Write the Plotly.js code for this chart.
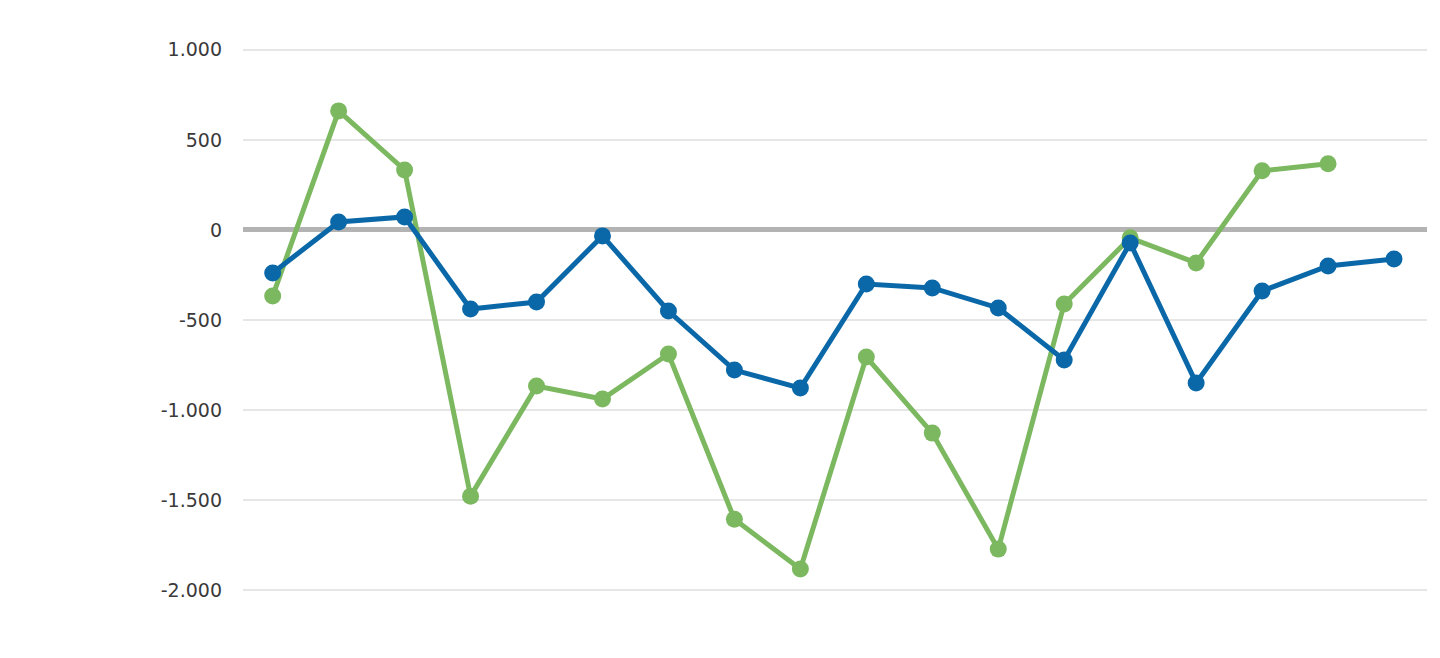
<!DOCTYPE html>
<html>
<head>
<meta charset="utf-8">
<script src="https://cdn.plot.ly/plotly-3.0.1.min.js"></script>
<style>html,body{margin:0;padding:0;background:#fff;}#chart{width:1440px;height:658px;}</style>
</head>
<body>
<div id="chart"></div>
<script>
const categories = [1,2,3,4,5,6,7,8,9,10,11,12,13,14,15,16,17,18];
const seriesBlue = [-239, 44, 72, -439, -400, -33, -450, -778, -878, -300, -322, -433, -722, -72, -850, -339, -200, -161];
const seriesGreen = [-367, 661, 333, -1478, -867, -939, -689, -1606, -1883, -706, -1128, -1772, -411, -44, -183, 328, 367, null];
const tickValues = [1000, 500, 0, -500, -1000, -1500, -2000];
const tickLabels = ["1.000", "500", "0", "-500", "-1.000", "-1.500", "-2.000"];

const traces = [
  {x: categories, y: seriesGreen, type: 'scatter', mode: 'lines+markers',
   line: {color: '#7cb860', width: 5}, marker: {color: '#7cb860', size: 17}, cliponaxis: false, connectgaps: false},
  {x: categories, y: seriesBlue, type: 'scatter', mode: 'lines+markers',
   line: {color: '#0b68a8', width: 5}, marker: {color: '#0b68a8', size: 17}, cliponaxis: false}
];
const layout = {
  width: 1440, height: 658,
  margin: {l: 243, r: 13, t: 30, b: 48},
  paper_bgcolor: '#fff', plot_bgcolor: '#fff',
  showlegend: false,
  font: {family: 'DejaVu Sans, Verdana, sans-serif', size: 19, color: '#3a3a3a'},
  xaxis: {range: [0.55, 18.5], showgrid: false, zeroline: false, showticklabels: false, showline: false, ticks: ''},
  yaxis: {range: [-2110, 1110], tickvals: tickValues, ticktext: tickLabels, showgrid: true, gridcolor: '#e6e6e6', gridwidth: 2,
          zeroline: true, zerolinecolor: '#b3b3b3', zerolinewidth: 5, showline: false, ticks: '', ticklabelstandoff: 20}
};
Plotly.newPlot('chart', traces, layout, {displayModeBar: false, staticPlot: true});
</script>
</body>
</html>
